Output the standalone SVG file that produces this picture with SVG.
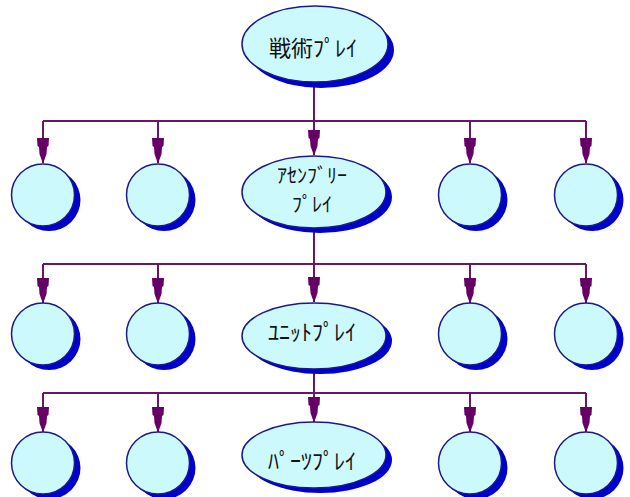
<svg xmlns="http://www.w3.org/2000/svg" width="630" height="497" viewBox="0 0 630 497">
  <style>
    .shadow { fill: #0000cc; }
    .body { fill: #ccf9fb; stroke: #1a1a8c; stroke-width: 1.5; }
    .label { font-family: "Noto Sans CJK JP", "Noto Sans", sans-serif; font-size: 22px; fill: #111; text-anchor: middle; }
    .label.two-line { font-size: 20px; }
    .wire { fill: none; stroke: #6b1468; stroke-width: 2; }
    .drop { fill: none; stroke: #6b1468; stroke-width: 2; marker-end: url(#plug); }
  </style>
  <defs>
    <!-- tapered plug-style arrowhead, tip at x=25 -->
    <marker id="plug" markerUnits="userSpaceOnUse" viewBox="0 -7 26 14" refX="25" refY="0" markerWidth="26" markerHeight="14" orient="auto">
      <path d="M0,-6 L8,-5.5 L9,-4 L16,-3.5 L23,-1 L25,0 L23,1 L16,3.5 L9,4 L8,5.5 L0,6 Z" fill="#660066"/>
    </marker>
  </defs>

  <rect width="630" height="497" fill="#ffffff"/>

  <!-- connectors -->
  <g id="connectors">
    <!-- level 1 -> level 2 -->
    <path class="wire" d="M314,86 V121 M43,121 H586"/>
    <path class="drop" d="M43,121 V163"/>
    <path class="drop" d="M158,121 V163"/>
    <path class="drop" d="M314,121 V155"/>
    <path class="drop" d="M470,121 V163"/>
    <path class="drop" d="M586,121 V163"/>
    <!-- level 2 -> level 3 -->
    <path class="wire" d="M314,230 V264 M43,264 H586"/>
    <path class="drop" d="M43,264 V303"/>
    <path class="drop" d="M158,264 V303"/>
    <path class="drop" d="M314,264 V302"/>
    <path class="drop" d="M470,264 V303"/>
    <path class="drop" d="M586,264 V303"/>
    <!-- level 3 -> level 4 -->
    <path class="wire" d="M314,372 V393 M43,393 H586"/>
    <path class="drop" d="M43,393 V432"/>
    <path class="drop" d="M158,393 V432"/>
    <path class="drop" d="M314,393 V422"/>
    <path class="drop" d="M470,393 V432"/>
    <path class="drop" d="M586,393 V432"/>
  </g>

  <!-- level 1 -->
  <g id="tactical-play">
    <ellipse class="shadow" cx="321" cy="50" rx="73" ry="38"/>
    <ellipse class="body" cx="315" cy="44" rx="73" ry="38"/>
    <text class="label" x="313" y="56">戦術ﾌﾟﾚｲ</text>
  </g>

  <!-- level 2 -->
  <g id="l2-a">
    <ellipse class="shadow" cx="49" cy="200" rx="31.5" ry="31"/>
    <ellipse class="body" cx="43" cy="195" rx="31.5" ry="31"/>
  </g>
  <g id="l2-b">
    <ellipse class="shadow" cx="164" cy="200" rx="31.5" ry="31"/>
    <ellipse class="body" cx="158" cy="195" rx="31.5" ry="31"/>
  </g>
  <g id="assembly-play">
    <ellipse class="shadow" cx="320" cy="197" rx="72" ry="36"/>
    <ellipse class="body" cx="314" cy="192" rx="72" ry="36"/>
    <text class="label two-line" x="312" y="183">ｱｾﾝﾌﾞﾘｰ<tspan x="312" dy="29">ﾌﾟﾚｲ</tspan></text>
  </g>
  <g id="l2-d">
    <ellipse class="shadow" cx="476" cy="200" rx="31.5" ry="31"/>
    <ellipse class="body" cx="470" cy="195" rx="31.5" ry="31"/>
  </g>
  <g id="l2-e">
    <ellipse class="shadow" cx="592" cy="200" rx="31.5" ry="31"/>
    <ellipse class="body" cx="586" cy="195" rx="31.5" ry="31"/>
  </g>

  <!-- level 3 -->
  <g id="l3-a">
    <ellipse class="shadow" cx="49" cy="339" rx="31.5" ry="31"/>
    <ellipse class="body" cx="43" cy="334" rx="31.5" ry="31"/>
  </g>
  <g id="l3-b">
    <ellipse class="shadow" cx="164" cy="339" rx="31.5" ry="31"/>
    <ellipse class="body" cx="158" cy="334" rx="31.5" ry="31"/>
  </g>
  <g id="unit-play">
    <ellipse class="shadow" cx="320" cy="341" rx="72" ry="33"/>
    <ellipse class="body" cx="314" cy="336" rx="72" ry="33"/>
    <text class="label" x="312" y="340">ﾕﾆｯﾄﾌﾟﾚｲ</text>
  </g>
  <g id="l3-d">
    <ellipse class="shadow" cx="476" cy="339" rx="31.5" ry="31"/>
    <ellipse class="body" cx="470" cy="334" rx="31.5" ry="31"/>
  </g>
  <g id="l3-e">
    <ellipse class="shadow" cx="592" cy="339" rx="31.5" ry="31"/>
    <ellipse class="body" cx="586" cy="334" rx="31.5" ry="31"/>
  </g>

  <!-- level 4 -->
  <g id="l4-a">
    <ellipse class="shadow" cx="49" cy="468" rx="31.5" ry="31"/>
    <ellipse class="body" cx="43" cy="463" rx="31.5" ry="31"/>
  </g>
  <g id="l4-b">
    <ellipse class="shadow" cx="164" cy="468" rx="31.5" ry="31"/>
    <ellipse class="body" cx="158" cy="463" rx="31.5" ry="31"/>
  </g>
  <g id="parts-play">
    <ellipse class="shadow" cx="320" cy="460" rx="72" ry="33"/>
    <ellipse class="body" cx="314" cy="455" rx="72" ry="33"/>
    <text class="label" x="312" y="469">ﾊﾟｰﾂﾌﾟﾚｲ</text>
  </g>
  <g id="l4-d">
    <ellipse class="shadow" cx="476" cy="468" rx="31.5" ry="31"/>
    <ellipse class="body" cx="470" cy="463" rx="31.5" ry="31"/>
  </g>
  <g id="l4-e">
    <ellipse class="shadow" cx="592" cy="468" rx="31.5" ry="31"/>
    <ellipse class="body" cx="586" cy="463" rx="31.5" ry="31"/>
  </g>
</svg>
